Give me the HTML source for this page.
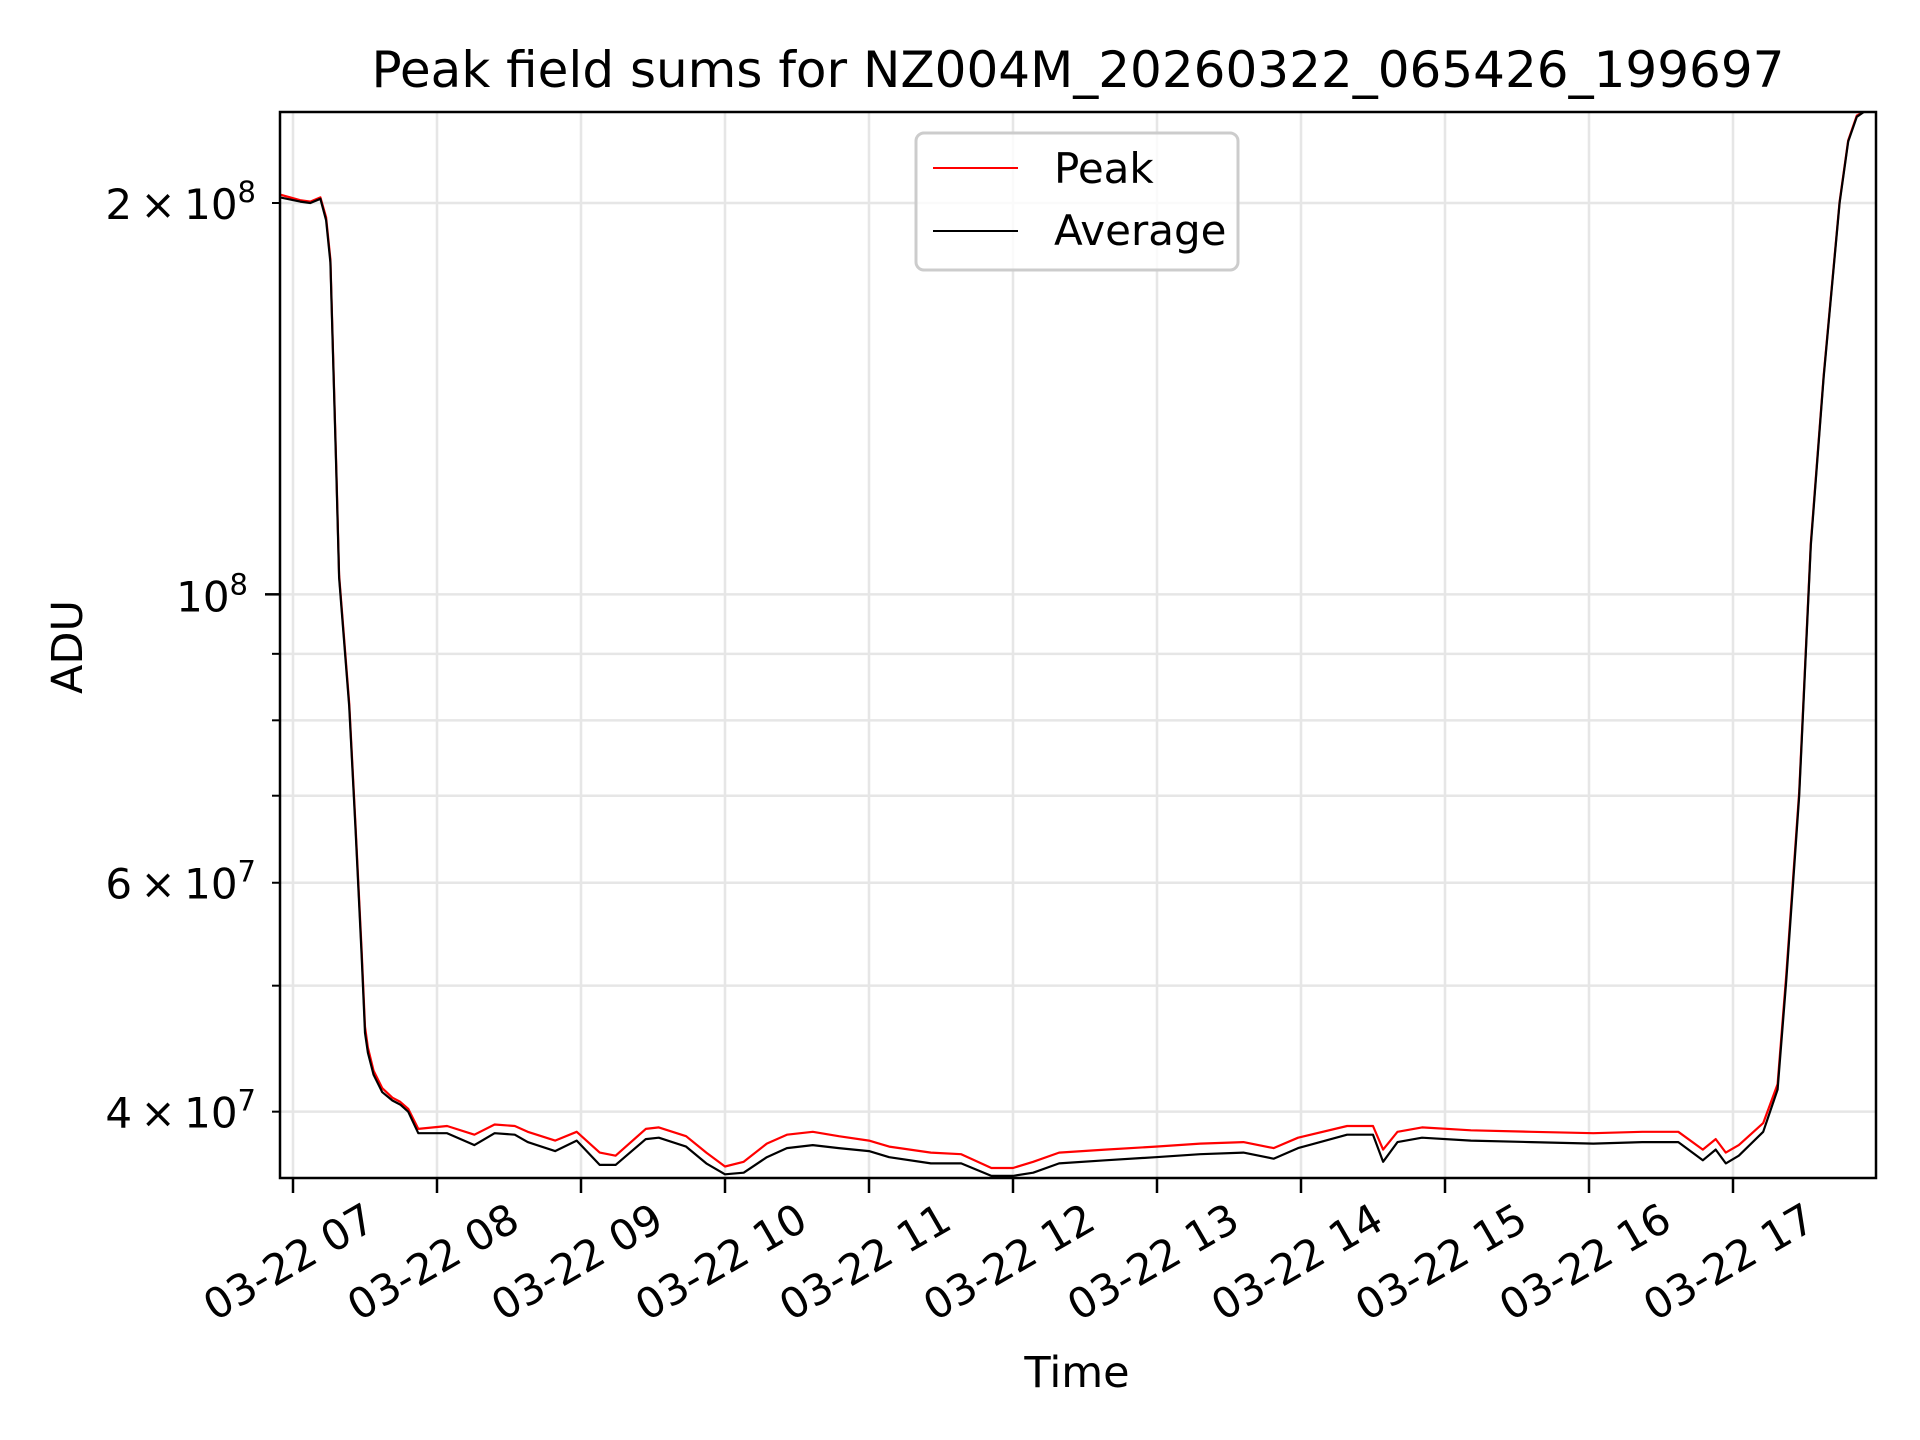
<!DOCTYPE html>
<html><head><meta charset="utf-8"><style>
html,body{margin:0;padding:0;background:#fff;}
svg{display:block;font-family:"DejaVu Sans","Liberation Sans",sans-serif;}
</style></head><body>
<svg id="chart" width="1920" height="1440" viewBox="0 0 1920 1440" xmlns="http://www.w3.org/2000/svg">
<rect width="1920" height="1440" fill="#fff"/>
<defs><clipPath id="plotclip"><rect x="280" y="112" width="1596" height="1066"/></clipPath></defs>
<g id="grid"></g>
<g id="series" clip-path="url(#plotclip)"></g>
<rect x="280" y="112" width="1596" height="1066" fill="none" stroke="#000" stroke-width="2.5"/>
<g id="axes"></g>
<text x="1078" y="87" font-size="50" text-anchor="middle">Peak field sums for NZ004M_20260322_065426_199697</text>
<text x="1077" y="1387" font-size="43" text-anchor="middle">Time</text>
<text transform="translate(82,647) rotate(-90)" font-size="43" text-anchor="middle">ADU</text>
<g>
<rect x="916" y="133" width="322" height="137" rx="8" fill="#fff" fill-opacity="0.8" stroke="#cccccc" stroke-width="3"/>
<line x1="933" y1="168" x2="1018" y2="168" stroke="#ff0000" stroke-width="2"/>
<text x="1054" y="183" font-size="42">Peak</text>
<line x1="933" y1="231" x2="1018" y2="231" stroke="#000" stroke-width="2"/>
<text x="1054" y="245" font-size="42">Average</text>
</g>
</svg>
<script>
// hours since 03-22 07:00
const times = [-0.09,0.05,0.12,0.19,0.23,0.26,0.30,0.32,0.39,0.434,0.476,0.50,0.52,
0.56,0.62,0.69,0.745,0.80,0.87,
1.07,1.26,1.40,1.54,1.63,1.82,1.97,
2.13,2.24,2.45,2.54,2.73,2.87,
3.0,3.13,3.29,3.43,3.61,3.79,
4.0,4.14,4.43,4.64,4.85,
5.0,5.14,5.32,5.64,5.99,
6.3,6.6,6.81,6.98,
7.32,7.5,7.57,7.67,7.84,
8.18,8.6,9.03,9.37,9.62,9.79,9.88,9.95,
10.04,10.21,10.31,10.37,10.46,10.54,10.63,10.74,10.8,10.86,10.92,10.97];
// values in units of 1e7 ADU
const averageValues = [20.2,20.05,20.0,20.15,19.4,18.0,12.5,10.3,8.2,6.6,5.3,4.6,4.44,
4.27,4.14,4.08,4.05,4.0,3.85,
3.85,3.77,3.85,3.84,3.79,3.73,3.80,
3.64,3.64,3.81,3.82,3.76,3.65,
3.58,3.59,3.69,3.75,3.77,3.75,
3.73,3.69,3.65,3.65,3.57,
3.57,3.59,3.65,3.67,3.69,
3.71,3.72,3.68,3.75,
3.84,3.84,3.66,3.79,3.82,
3.80,3.79,3.78,3.79,3.79,3.67,3.74,3.65,
3.70,3.86,4.16,5.05,7.0,10.9,14.7,20.0,22.3,23.3,23.55,23.55];
const peakValues = [20.3,20.1,20.05,20.2,19.5,18.1,12.6,10.35,8.25,6.65,5.35,4.65,4.48,
4.3,4.17,4.1,4.07,4.02,3.88,
3.90,3.84,3.91,3.90,3.86,3.80,3.86,
3.72,3.70,3.88,3.89,3.83,3.72,
3.63,3.66,3.78,3.84,3.86,3.83,
3.80,3.76,3.72,3.71,3.62,
3.62,3.66,3.72,3.74,3.76,
3.78,3.79,3.75,3.82,
3.90,3.90,3.74,3.86,3.89,
3.87,3.86,3.85,3.86,3.86,3.74,3.81,3.72,
3.77,3.92,4.2,5.1,7.05,10.95,14.75,20.05,22.35,23.35,23.55,23.55];
const xTickHours = [0,1,2,3,4,5,6,7,8,9,10];
const xTickLabels = ["03-22 07","03-22 08","03-22 09","03-22 10","03-22 11","03-22 12","03-22 13","03-22 14","03-22 15","03-22 16","03-22 17"];
const yMajorTicks = [10];
const yMajorLabels = ["10|8"];
const yMinorTicks = [4,5,6,7,8,9,20];
const yMinorLabels = ["4\u2009×\u200910|7","","6\u2009×\u200910|7","","","","2\u2009×\u200910|8"];

const NS = "http://www.w3.org/2000/svg";
function xScale(h){ return 293 + 144*h; }
function yScale(v){ return 203 + (Math.log10(20) - Math.log10(v))*1300; }
function mk(tag, attrs, parent){ const e=document.createElementNS(NS,tag); for(const k in attrs) e.setAttribute(k,attrs[k]); parent.appendChild(e); return e; }

const grid=document.getElementById('grid'), axes=document.getElementById('axes'), series=document.getElementById('series');
xTickHours.forEach((h,i)=>{
  const x=xScale(h);
  const gl=mk('line',{x1:x,y1:112,x2:x,y2:1178,stroke:'#e6e6e6','stroke-width':2.5},grid);
  
  
  const t=mk('line',{x1:x,y1:1178,x2:x,y2:1193,stroke:'#000','stroke-width':2.5},axes);
  
  
  const lb=mk('text',{transform:`translate(${x-4},1262) rotate(-30)`,'font-size':42,'text-anchor':'middle','dominant-baseline':'central'},axes);
  lb.textContent=xTickLabels[i];
  
  
});
function yLabel(txt,y){
  if(!txt) return;
  const parts=txt.split('|');
  const t=mk('text',{x:256,y:y+16,'font-size':42,'text-anchor':'end'},axes);
  
  
  t.appendChild(document.createTextNode(parts[0]));
  const s=mk('tspan',{'font-size':29,dy:-17},t);
  s.textContent=parts[1];
}
yMajorTicks.forEach((v,i)=>{
  const y=yScale(v);
  const gl=mk('line',{x1:280,y1:y,x2:1876,y2:y,stroke:'#e6e6e6','stroke-width':2.5},grid);
  
  
  const t=mk('line',{x1:265,y1:y,x2:280,y2:y,stroke:'#000','stroke-width':2.5},axes);
  
  
  const tx=mk('text',{x:248,y:y+17,'font-size':42,'text-anchor':'end'},axes);
  
  
  const p=yMajorLabels[i].split('|');
  tx.appendChild(document.createTextNode(p[0]));
  const s=mk('tspan',{'font-size':29,dy:-17},tx); s.textContent=p[1];
});
yMinorTicks.forEach((v,i)=>{
  const y=yScale(v);
  const gl=mk('line',{x1:280,y1:y,x2:1876,y2:y,stroke:'#e6e6e6','stroke-width':2.5},grid);
  
  
  const t=mk('line',{x1:272,y1:y,x2:280,y2:y,stroke:'#000','stroke-width':2},axes);
  
  
  yLabel(yMinorLabels[i],y);
});
function path(vals,color,name){
  const d=times.map((h,i)=>(i?'L':'M')+xScale(h).toFixed(1)+','+yScale(vals[i]).toFixed(1)).join(' ');
  const p=mk('path',{d:d,fill:'none',stroke:color,'stroke-width':2.2,'stroke-linejoin':'round'},series);
  
  
}
path(peakValues,'#ff0000','peak-line');
path(averageValues,'#000000','average-line');
</script>
</body></html>
